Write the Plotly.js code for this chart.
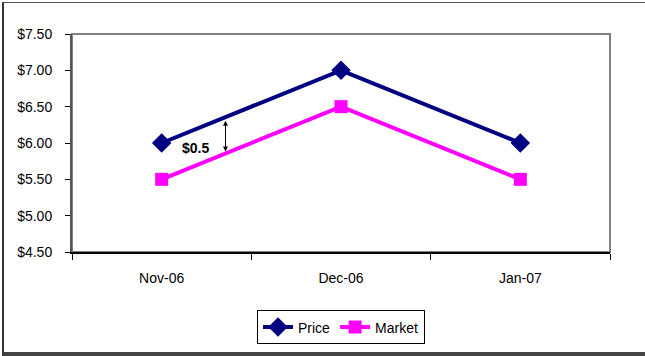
<!DOCTYPE html>
<html>
<head>
<meta charset="utf-8">
<script src="https://cdn.plot.ly/plotly-3.0.1.min.js"></script>
<style>
html,body{margin:0;padding:0;background:#fff;}
#wrap{position:relative;width:645px;height:356px;}
#chart{width:645px;height:356px;}
#frame{position:absolute;left:2px;top:2px;width:650px;height:349px;border-left:2px solid #333;border-top:1px solid #555;border-bottom:4px solid #444;pointer-events:none;}
</style>
</head>
<body>
<div id="wrap"><div id="chart"></div><div id="frame"></div></div>
<script>
const categories = ["Nov-06", "Dec-06", "Jan-07"];
const price = [6.0, 7.0, 6.0];
const market = [5.5, 6.5, 5.5];
const yTickVals = [4.5, 5.0, 5.5, 6.0, 6.5, 7.0, 7.5];
const yTickText = ["$4.50", "$5.00", "$5.50", "$6.00", "$6.50", "$7.00", "$7.50"];
const gapLabel = "$0.5";

const font = "Liberation Sans, Arial, sans-serif";

// arrow position between first two categories
const f = 0.356;
const pTop = price[0] + f * (price[1] - price[0]);
const pBot = market[0] + f * (market[1] - market[0]);

const traces = [
  {x: categories, y: price, name: "Price", type: "scatter", mode: "lines+markers",
   line: {color: "#000080", width: 4},
   marker: {symbol: "diamond", size: 15, color: "#000080"}},
  {x: categories, y: market, name: "Market", type: "scatter", mode: "lines+markers",
   line: {color: "#FF00FF", width: 4},
   marker: {symbol: "square", size: 13, color: "#FF00FF"}}
];

const layout = {
  width: 645, height: 356,
  margin: {l: 72, r: 35, t: 34, b: 104},
  paper_bgcolor: "#fff", plot_bgcolor: "#fff",
  font: {family: font, size: 14, color: "#000"},
  showlegend: true,
  legend: {orientation: "h", x: 0.5, xanchor: "center", yref: "container", y: 0.128, yanchor: "top",
           bordercolor: "#000", borderwidth: 1, font: {family: font, size: 14},
           itemwidth: 30, tracegroupgap: 0},
  xaxis: {type: "category", range: [-0.5, 2.5], tickson: "boundaries",
          ticks: "outside", ticklen: 6, tickcolor: "#000", tickwidth: 1,
          showline: true, linecolor: "#000", linewidth: 2, showgrid: false, zeroline: false,
          ticklabelstandoff: 12, automargin: false, fixedrange: true},
  yaxis: {range: [4.5, 7.5], tickvals: yTickVals, ticktext: yTickText,
          ticks: "outside", ticklen: 5, tickcolor: "#000", tickwidth: 1,
          showline: true, linecolor: "#555", linewidth: 2, showgrid: false, zeroline: false,
          ticklabelstandoff: 10, automargin: false, fixedrange: true},
  shapes: [
    {type: "rect", xref: "paper", yref: "paper", x0: 0, x1: 1, y0: 0, y1: 1,
     line: {color: "#808080", width: 2}, layer: "below"}
  ],
  annotations: [
    {x: f, y: pBot, ax: f, ay: pTop, xref: "x", yref: "y", axref: "x", ayref: "y",
     text: "", showarrow: true, arrowhead: 2, arrowside: "end+start", arrowsize: 1,
     arrowwidth: 1, arrowcolor: "#000", standoff: 2, startstandoff: 2},
    {x: 0.19, y: 5.93, xref: "x", yref: "y", text: "<b>" + gapLabel + "</b>",
     showarrow: false, font: {family: font, size: 14, color: "#000"}}
  ]
};

Plotly.newPlot("chart", traces, layout, {staticPlot: true, displayModeBar: false});
</script>
</body>
</html>
